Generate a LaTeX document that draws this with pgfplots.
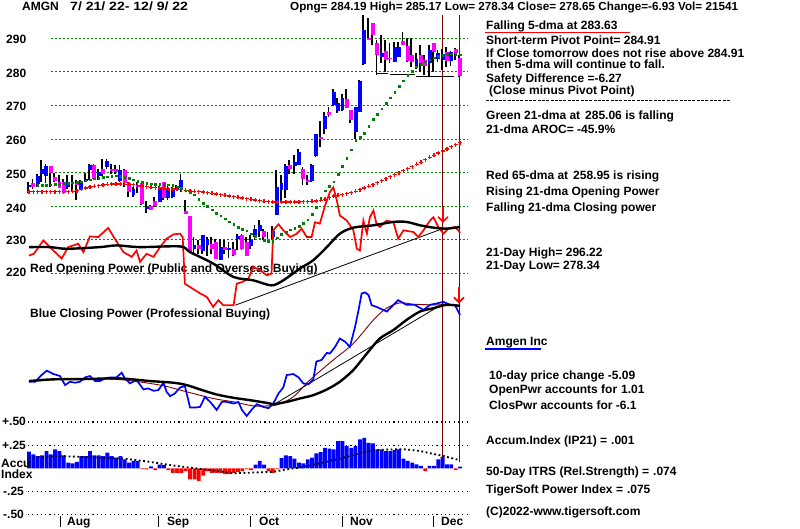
\documentclass[border=0pt]{standalone}
\usepackage{fontspec}
\setmainfont{Liberation Sans}
\usepackage{pgfplots}
\usepackage{pgfplotstable}
\pgfplotsset{compat=1.18}
\usetikzlibrary{arrows.meta}
\definecolor{tgreen}{RGB}{0,128,0}
\definecolor{tblue}{RGB}{0,0,255}
\definecolor{tmag}{RGB}{255,0,255}
\definecolor{tred}{RGB}{255,0,0}
\definecolor{tbrown}{RGB}{128,0,0}
\newcommand\tf{\fontsize{12bp}{14bp}\selectfont\bfseries}
\newcommand\T[3]{\node[anchor=base west,inner sep=0pt,font=\tf] at (#1,{528-#2}) {#3};}

\pgfplotstableread{
d lo hi bot top
0 243.8 247.3 245.8 246.3
2 245.8 249.7 246.5 248.9
3 247.3 253.8 249.5 251.2
4 246.8 252.6 248.9 251.9
9 245.0 249.2 245.8 247.1
12 244.8 247.9 245.0 247.5
13 247.3 249.9 247.5 248.2
14 247.7 252.5 250.9 252.2
16 247.7 251.2 248.9 250.1
18 251.2 254.1 251.7 253.4
21 247.3 252.2 247.5 250.9
24 242.8 245.6 243.3 245.0
27 238.1 241.4 239.1 239.7
30 241.1 246.0 241.1 245.8
32 241.9 246.3 242.4 245.0
33 242.4 245.8 242.8 245.0
34 244.8 246.3 245.0 245.8
35 244.3 249.5 245.3 247.7
38 225.8 230.8 227.3 228.5
40 225.8 231.5 226.5 231.3
41 225.3 230.8 228.3 230.3
44 223.9 230.3 223.9 227.8
46 224.7 229.3 226.9 227.5
48 226.8 231.8 230.3 231.1
51 227.3 231.3 228.1 229.8
52 229.8 234.3 230.8 233.3
53 230.8 235.9 232.5 234.3
56 230.1 234.0 230.9 232.5
57 237.5 250.7 237.5 245.8
58 240.9 249.2 244.8 246.8
59 242.4 252.6 244.8 251.9
61 249.7 255.1 251.9 253.1
62 252.6 257.1 252.2 256.1
65 247.3 252.6 247.5 252.2
66 254.6 261.5 254.8 261.5
68 261.6 268.1 263.1 266.8
70 269.8 274.8 270.1 274.1
71 267.8 272.1 268.4 270.6
72 268.4 273.3 268.6 272.3
75 260.1 269.4 262.1 269.4
76 268.1 277.6 268.1 277.4
77 282.0 297.0 282.3 292.5
81 282.5 291.0 284.5 285.5
84 283.0 289.0 283.0 287.5
85 284.5 289.0 284.5 287.5
89 281.0 285.7 281.7 283.7
92 278.8 288.0 282.5 286.5
94 283.0 286.5 283.7 285.7
95 280.5 286.7 283.5 285.2
97 281.8 286.2 283.3 286.0
}\bluecandles
\pgfplotstableread{
d lo hi bot top
1 245.0 248.2 245.8 247.0
5 245.8 251.9 249.9 251.9
6 247.3 249.9 247.5 248.7
7 245.3 249.2 245.5 247.1
8 243.8 248.2 244.0 247.1
10 244.3 249.2 246.5 247.0
11 241.7 247.7 246.4 247.0
15 247.7 252.6 248.2 252.2
17 248.9 254.1 249.5 251.2
19 249.7 252.6 250.5 251.2
20 249.5 252.2 250.2 251.2
22 245.6 251.2 247.0 250.9
23 242.8 247.3 244.3 246.8
25 243.8 247.3 245.6 246.3
26 240.4 246.8 240.7 246.8
28 238.9 240.4 238.9 240.1
29 239.7 242.8 240.1 241.4
31 241.9 247.3 242.4 247.3
36 237.6 241.9 237.6 238.6
37 226.3 237.2 226.3 237.2
39 225.8 229.8 227.3 228.3
42 225.8 230.8 227.3 228.8
43 224.2 230.3 224.4 229.3
45 225.8 229.8 226.8 227.8
47 225.3 229.3 225.5 227.3
49 226.8 231.8 227.3 231.5
50 225.3 230.8 225.3 229.3
54 229.8 233.3 230.8 232.5
55 229.3 232.3 229.3 230.3
60 249.7 253.6 251.2 252.2
63 246.3 251.7 248.2 251.2
64 246.3 249.2 247.3 247.9
67 257.5 265.4 260.0 260.5
69 266.6 269.6 267.1 268.1
73 269.1 274.8 269.1 271.9
74 264.8 268.6 265.6 268.6
78 289.5 296.0 289.5 290.0
79 288.0 294.5 291.0 294.5
80 279.1 289.5 285.0 288.7
82 280.0 289.5 283.5 286.3
83 282.5 288.5 283.7 284.2
86 288.0 292.0 288.0 289.3
87 283.0 290.0 283.3 287.7
88 281.5 290.0 283.0 285.0
90 280.0 288.0 282.5 285.0
91 279.1 285.0 281.8 283.5
93 280.0 288.5 286.0 288.5
96 281.5 287.5 283.3 285.8
98 283.5 287.0 285.5 286.7
99 278.34 285.17 278.65 284.19
}\magcandles

\begin{document}
\begin{tikzpicture}
% ---- accumulation index (full-size frame: x px 0..800, y px 528..0) ----
\begin{axis}[name=ax1,at={(0,0)},anchor=south west,scale only axis,width=800bp,height=528bp,
  xmin=-6.660,xmax=177.08,ymin=-0.645,ymax=5.057,hide axis,clip=false]
\fill[white] (rel axis cs:0,0) rectangle (rel axis cs:1,1);
\coordinate (SW) at (rel axis cs:0,0);
\foreach \gy in {0.5,0.25,-0.25,-0.5} {
  \edef\tmp{\noexpand\draw[black,line width=1.1bp,dash pattern=on 1.1bp off 3.2bp] (axis cs:-0.23,\gy) -- (axis cs:100.8,\gy);}\tmp}
\addplot[ybar,bar width=3.8bp,bar shift=0pt,fill=tblue,draw=none] coordinates {
(0,.179) (1,.15) (2,.132) (3,.139) (4,.186) (5,.15) (6,.204) (7,.186) (8,.139) (9,.061)
(10,.054) (11,.068) (12,.132) (13,.132) (14,.186) (15,.139) (16,.139) (17,.132) (18,.168) (19,.132)
(20,.114) (21,.132) (22,.096) (23,.061) (24,.079) (25,.079) (28,.02) (30,.04) (31,.036)
(52,.04) (53,.08) (54,.04) (58,.11) (59,.14) (60,.132) (61,.104) (62,.061) (63,.054) (64,.096)
(65,.114) (66,.161) (67,.175) (68,.221) (69,.211) (70,.204) (71,.293) (72,.293) (73,.239) (74,.221)
(75,.239) (76,.311) (77,.329) (78,.275) (79,.268) (80,.204) (81,.204) (82,.186) (83,.186) (84,.196)
(85,.204) (86,.104) (87,.079) (88,.061) (89,.043) (90,.025) (92,.025) (93,.025) (94,.096) (95,.125)
(96,.043) (97,.043) (99,.018)};
\addplot[ybar,bar width=3.8bp,bar shift=0pt,fill=tred,draw=none] coordinates {
(26,-.01) (27,-.012) (29,-.02) (32,-.02) (33,-.05) (34,-.05) (35,-.05) (36,-.03) (37,-.12) (38,-.12)
(39,-.14) (40,-.08) (41,-.03) (42,-.05) (43,-.05) (44,-.05) (45,-.064) (46,-.064) (47,-.05) (48,-.04)
(49,-.03) (50,-.01) (51,-.02) (55,-.03) (56,-.05) (57,-.01) (91,-.03) (98,-.02)};
\addplot[black,line width=1.8bp,dash pattern=on 1.8bp off 2.6bp] coordinates {
(0,.114) (7.1,.132) (21.7,.104) (26.3,.079) (33.9,.025) (43.1,-.029) (47,-.054) (51.5,-.046)
(56.1,-.039) (59.2,-.011) (62.2,.007) (66.8,.054) (71.4,.104) (76,.161) (79.1,.196) (83.7,.204)
(86.7,.204) (89.8,.186) (95.2,.132) (98.8,.089)};
\end{axis}

% ---- texts, in pixel units from the frame's corner ----
\begin{scope}[shift={(SW)},x=1bp,y=1bp]
\T{22}{10.7}{AMGN}
\T{70}{10.7}{\scalebox{1.17}[1]{7/ 21/ 22- 12/ 9/ 22}}
\node[anchor=base west,inner sep=0pt,font=\fontsize{11.7bp}{14bp}\selectfont\bfseries] at (290,{528-10.7}) {Opng= 284.19 High= 285.17 Low= 278.34 Close= 278.65 Change=-6.93 Vol= 21541};
\T{486}{29.3}{Falling 5-dma at 283.63}
\draw[tred,line width=1bp] (485,{528-32.5}) -- (630,{528-32.5});
\T{486}{45}{Short-term Pivot Point= 284.91}
\T{486}{57.3}{If Close tomorrow does not rise above 284.91}
\T{486}{69}{then 5-dma will continue to fall.}
\T{486}{82.3}{Safety Difference =-6.27}
\T{489}{94.3}{(Close minus Pivot Point)}
\draw[black,line width=0.9bp,dash pattern=on 3bp off 1.3bp] (486,{528-100}) -- (730,{528-100});
\T{486}{119.3}{Green 21-dma at\hspace{5bp}285.06 is falling}
\T{486}{134}{21-dma AROC= -45.9\%}
\T{486}{180}{Red 65-dma at\hspace{5bp}258.95 is rising}
\T{486}{196}{Rising 21-dma Opening Power}
\T{486}{211.7}{Falling 21-dma Closing power}
\T{486}{256.7}{21-Day High= 296.22}
\T{486}{269.3}{21-Day Low= 278.34}
\T{486}{346}{Amgen Inc}
\draw[tblue,line width=1.5bp] (485,{528-349}) -- (541,{528-349});
\T{489}{379.3}{10-day price change -5.09}
\T{489}{394}{OpenPwr accounts for\hspace{4bp}1.01}
\T{489}{409.3}{ClosPwr accounts for -6.1}
\T{486}{445}{Accum.Index (IP21) =\hspace{4bp}.001}
\T{486}{475.7}{50-Day ITRS (Rel.Strength) =\hspace{4bp}.074}
\T{486}{494}{TigerSoft Power Index =\hspace{4bp}.075}
\T{486}{515.7}{(C)2022-www.tigersoft.com}
\T{6}{44}{290}
\T{6}{77.3}{280}
\T{6}{111}{270}
\T{6}{145}{260}
\T{6}{178.3}{250}
\T{6}{212.3}{240}
\T{6}{245}{230}
\T{6}{276.7}{220}
\T{2}{426}{+.50}
\T{2}{450}{+.25}
\T{1}{467.3}{Accu}
\T{1}{479}{Index}
\T{3}{496}{-.25}
\T{3}{519}{-.50}
\T{67}{525.7}{Aug}
\T{167}{525.7}{Sep}
\T{259}{525.7}{Oct}
\T{350}{525.7}{Nov}
\T{441}{525.7}{Dec}
\foreach \mx in {60,158,250,342,433} {\draw[black,line width=1bp] (\mx,1) -- (\mx,12);}
\T{30}{272.7}{Red Opening Power (Public and Overseas Buying)}
\T{30}{318}{Blue Closing Power (Professional Buying)}
\end{scope}

% ---- price and power ----
\begin{axis}[at={(ax1.south west)},anchor=south west,scale only axis,width=800bp,height=528bp,
  xmin=-6.660,xmax=177.08,ymin=144.13,ymax=301.41,hide axis,clip=false]
\foreach \gy in {220,230,240,250,260,270,280,290} {
  \edef\tmp{\noexpand\draw[tgreen,line width=0.9bp,dash pattern=on 2bp off 2bp] (axis cs:5.05,\gy) -- (axis cs:100.8,\gy);}\tmp}
\draw[tbrown,line width=1bp] (axis cs:95.08,296.9) -- (axis cs:95.08,165.3);
\draw[tbrown,line width=1bp] (axis cs:98.76,296.9) -- (axis cs:98.76,163.8);
% 65-dma
\addplot[only marks,mark=+,mark size=2bp,mark options={line width=1.3bp,tred}] coordinates {
(0,244.3) (1,244.3) (2,244.3) (3,244.3) (4,244.3) (5,244.3) (6,244.3) (7,244.3) (8,244.3) (9,244.3)
(10,244.4) (11,244.6) (12,245.0) (13,245.4) (14,245.7) (15,245.9) (16,246.1) (17,246.3) (18,246.5) (19,246.6)
(20,246.6) (21,246.6) (22,246.5) (23,246.5) (24,246.4) (25,246.2) (26,246.0) (27,245.8) (28,245.6) (29,245.5)
(30,245.4) (31,245.3) (32,245.2) (33,245.1) (34,245.0) (35,244.9) (36,244.7) (37,244.5) (38,244.4) (39,244.3)
(40,244.2) (41,244.0) (42,243.8) (43,243.6) (44,243.4) (45,243.2) (46,243.0) (47,242.8) (48,242.6) (49,242.4)
(50,242.2) (51,242.0) (52,241.8) (53,241.6) (54,241.4) (55,241.3) (56,241.2) (57,241.2) (58,241.2) (59,241.2)
(60,241.2) (61,241.2) (62,241.2) (63,241.3) (64,241.3) (65,241.4) (66,241.5) (67,241.7) (68,242.0) (69,242.5)
(70,243.0) (71,243.2) (72,243.4) (73,243.7) (74,244.0) (75,244.4) (76,244.9) (77,245.4) (78,245.9) (79,246.4)
(80,247.0) (81,247.6) (82,248.2) (83,248.8) (84,249.4) (85,250.0) (86,250.6) (87,251.2) (88,251.8) (89,252.5)
(90,253.1) (91,253.8) (92,254.5) (93,255.1) (94,255.8) (95,256.4) (96,257.0) (97,257.7) (98,258.3) (99,258.9)};
% 21-dma
\addplot[only marks,mark=square*,mark size=0.85bp,mark options={tgreen,draw=tgreen}] coordinates {
(2,246.2) (3,246.3) (4,246.3) (5,246.4) (6,246.5) (7,246.6) (8,246.8) (9,246.9)
(10,247.0) (11,247.2) (12,247.3) (13,247.6) (14,247.9) (15,248.2) (16,248.4) (17,248.6) (18,248.8) (19,249.0)
(20,249.1) (21,249.0) (22,248.7) (23,248.3) (24,247.9) (25,247.5) (26,247.1) (27,246.8) (28,246.7) (29,246.6)
(30,246.6) (31,246.5) (32,246.4) (33,246.2) (34,245.8) (35,245.3) (36,244.6) (37,244.0) (38,243.4) (39,242.1)
(40,240.9) (41,239.9) (42,238.9) (43,238.0) (44,237.2) (45,236.3) (46,235.4) (47,234.6) (48,233.8) (49,233.2)
(50,232.7) (51,231.8) (52,231.0) (53,230.3) (54,229.9) (55,229.5) (56,229.6) (57,230.6) (58,231.6) (59,232.3)
(60,233.0) (61,233.5) (62,234.0) (63,234.9) (64,236.0) (65,237.5) (66,239.7) (67,242.3) (68,244.6) (69,246.0)
(70,247.3) (71,249.5) (72,251.8) (73,254.2) (74,256.8) (75,259.5) (76,260.6) (77,261.8) (78,263.8) (79,265.8)
(80,267.4) (81,269.0) (82,270.6) (83,272.3) (84,274.0) (85,275.7) (86,277.4) (87,279.0) (88,280.3) (89,281.5)
(90,282.2) (91,283.0) (92,283.6) (93,284.2) (94,284.6) (95,285.0) (96,285.3) (97,285.4) (98,285.3) (99,285.1)};
% candle wicks
\addplot[draw=none,mark=none,error bars/.cd,y dir=plus,y explicit,error mark=none,
  error bar style={draw=black,solid,line width=1.8bp}] table[x expr=\thisrow{d}-0.2,y=lo,y error expr=\thisrow{hi}-\thisrow{lo}] {\bluecandles};
\addplot[draw=none,mark=none,error bars/.cd,y dir=plus,y explicit,error mark=none,
  error bar style={draw=black,solid,line width=1.8bp}] table[x expr=\thisrow{d}-0.2,y=lo,y error expr=\thisrow{hi}-\thisrow{lo}] {\magcandles};
% candle bodies
\addplot[draw=none,mark=none,error bars/.cd,y dir=plus,y explicit,error mark=none,
  error bar style={draw=tblue,solid,line width=3.9bp}] table[x=d,y=bot,y error expr=\thisrow{top}-\thisrow{bot}] {\bluecandles};
\addplot[draw=none,mark=none,error bars/.cd,y dir=plus,y explicit,error mark=none,
  error bar style={draw=tmag,solid,line width=3.9bp}] table[x=d,y=bot,y error expr=\thisrow{top}-\thisrow{bot}] {\magcandles};
% support lines
\addplot[black,line width=1bp] coordinates {(79.8,279.4) (82.5,279.4)};
\addplot[black,line width=1bp] coordinates {(82.8,279.1) (88.6,279.1)};
\addplot[black,line width=1bp] coordinates {(88.9,278.7) (94.8,278.7)};
\addplot[black,line width=1bp] coordinates {(94.8,278.5) (97.6,278.5)};
\addplot[black,line width=0.8bp] coordinates {(47.4,210.5) (94.4,233.0)};
% red opening power
\addplot[tred,line width=1.7bp] coordinates {
(0,225.3) (1.1,225.8) (3.3,229.8) (4.8,227.8) (7.5,224.4) (9.0,227.8) (11.3,228.8) (12.5,226.3)
(14.0,231.0) (15.9,230.8) (18.2,233.5) (19.7,230.3) (21.7,226.3) (23.6,224.9) (24.7,226.8) (25.5,223.4)
(27.0,225.8) (28.6,224.9) (30.1,227.8) (31.6,230.3) (33.2,231.6) (34.7,231.8) (35.3,230.8) (35.8,216.9)
(37.0,215.9) (39.3,214.0) (40.8,213.0) (42.3,210.0) (43.5,212.0) (44.6,210.5) (47.0,210.5) (47.7,216.9)
(48.9,217.4) (50.4,218.4) (51.5,221.9) (53.1,220.9) (54.6,219.4) (55.7,219.9) (56.1,232.8) (57.3,234.6)
(58.4,232.8) (60.0,230.8) (61.5,231.8) (62.6,233.3) (63.8,230.8) (64.9,230.8) (65.7,235.2) (66.8,234.8)
(68.0,240.2) (69.1,244.2) (69.9,245.6) (70.7,241.7) (71.4,237.2) (73.0,235.7) (74.5,232.8) (75.3,227.3)
(76.0,226.8) (76.8,235.7) (77.6,231.8) (78.3,236.7) (79.1,238.7) (79.8,234.8) (80.6,233.8) (82.1,235.7)
(83.7,235.2) (84.8,230.3) (86.0,232.8) (88.3,232.3) (89.4,230.8) (90.6,232.8) (92.1,235.7) (92.9,236.7)
(94.0,233.8) (95.2,231.8) (96.3,233.3) (97.8,233.8) (98.6,232.8) (99.0,232.0)};
\addplot[black,line width=2.4bp,smooth] coordinates {
(0,227.8) (4.8,227.8) (8.7,227.3) (16.3,227.8) (20.1,228.3) (25.5,227.8) (34.7,228.0) (37.0,226.3)
(42.3,222.9) (47.0,218.9) (51.5,217.9) (55.7,216.4) (58.4,217.9) (62.2,221.4) (65.3,223.9) (68.4,227.8)
(71.4,231.8) (74.5,233.6) (79.1,234.3) (83.7,235.3) (86.7,235.3) (89.8,234.3) (92.9,233.6) (95.9,233.3) (99.0,233.8)};
\addplot[tbrown,line width=0.9bp,smooth] coordinates {
(0,187.7) (8.7,188.5) (20.1,188.4) (30.1,186.7) (36.2,184.7) (42.3,182.7) (47.0,181.7) (51.5,180.5)
(54.6,180.5) (56.9,180.8) (60.7,183.2) (64.5,188.2) (69.9,194.2) (74.5,199.1) (79.1,206.1) (82.1,209.6)
(85.2,211.2) (88.3,210.8) (92.9,210.6) (95.9,210.6) (99.0,210.3)};
\addplot[black,line width=0.8bp] coordinates {(56.1,180.8) (95.2,211.0)};
\addplot[tblue,line width=1.7bp] coordinates {
(0,187.7) (1.4,187.7) (2.9,189.7) (4.1,191.0) (5.6,190.0) (7.1,189.4) (8.3,186.7) (9.4,187.7)
(10.6,187.4) (11.7,187.7) (12.9,189.0) (14.0,189.4) (15.2,187.9) (16.3,187.9) (17.5,188.7) (18.6,189.0)
(20.1,189.0) (21.3,190.4) (22.0,188.7) (23.2,187.2) (24.7,188.2) (26.3,185.4) (27.4,185.7) (28.6,185.0)
(29.7,185.2) (30.9,187.4) (31.6,184.7) (32.4,183.4) (33.5,184.2) (34.7,186.0) (35.8,186.4) (37.0,180.0)
(38.1,180.0) (39.3,180.2) (40.4,183.2) (41.6,181.7) (43.1,179.3) (44.3,181.7) (45.4,181.7) (47.0,181.2)
(48.1,181.7) (48.9,179.3) (50.0,177.5) (51.1,179.3) (52.3,181.0) (53.8,180.2) (55.0,179.8) (56.1,181.2)
(57.3,184.2) (58.4,186.0) (59.2,189.7) (60.7,190.0) (61.9,189.0) (63.0,187.2) (64.2,187.0) (65.3,188.4)
(66.0,193.7) (67.2,194.2) (68.4,196.3) (69.1,196.1) (70.3,198.1) (71.4,200.6) (72.6,199.6) (73.7,198.1)
(74.9,204.1) (75.7,209.1) (76.4,214.0) (77.2,214.3) (78.0,213.5) (78.7,210.5) (79.8,210.0) (82.2,208.6)
(83.7,210.6) (84.8,212.0) (86.7,210.6) (88.6,210.6) (90.6,209.1) (92.1,210.6) (93.6,211.0) (95.2,211.5)
(96.7,210.6) (97.8,210.6) (99.0,207.6)};
\addplot[black,line width=2.4bp,smooth] coordinates {
(0,187.9) (5.3,188.4) (12.9,188.5) (20.6,188.7) (27.8,187.9) (33.2,187.4) (36.2,186.7) (39.3,185.4)
(43.1,183.9) (47.0,182.9) (50.8,182.2) (54.6,181.4) (56.1,181.0) (59.2,181.7) (62.2,182.7) (65.3,183.7)
(68.4,185.4) (71.4,187.7) (74.5,191.2) (77.6,196.1) (80.6,200.6) (83.7,203.1) (86.7,206.1) (89.8,208.6)
(92.9,209.6) (95.9,210.6) (99.0,210.3)};
\draw[tred,line width=1.6bp,-{Straight Barb[length=5bp,width=10bp]}] (axis cs:95.08,239.7) -- (axis cs:95.08,235.0);
\draw[tred,line width=1.6bp,-{Straight Barb[length=5bp,width=10bp]}] (axis cs:98.76,215.9) -- (axis cs:98.76,211.0);
\end{axis}
\end{tikzpicture}
\end{document}
